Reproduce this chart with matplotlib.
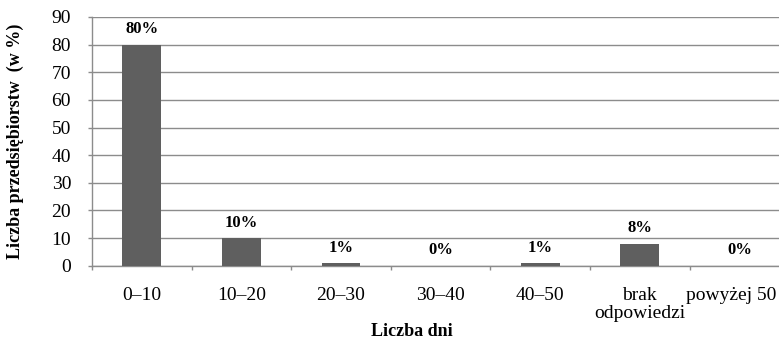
import matplotlib
matplotlib.use('Agg')
import matplotlib.pyplot as plt
import matplotlib.transforms as mtransforms
import numpy as np

# =============================================================================
# Data
# =============================================================================

categories = ['0–10', '10–20', '20–30', '30–40', '40–50', 'brak\nodpowiedzi', 'powyżej 50']
values = [80, 10, 1, 0, 1, 8, 0]
y_ticks = [0, 10, 20, 30, 40, 50, 60, 70, 80, 90]

bar_color = '#5f5f5f'
line_color = '#8c8c8c'

plt.rcParams['font.family'] = ['Liberation Serif', 'DejaVu Serif']

# =============================================================================
# Plot
# =============================================================================

fig = plt.figure(figsize=(7.79, 3.39), dpi=100)
ax = fig.add_axes([0.118, 0.216, 0.895, 0.734])

x = np.arange(len(categories))
ax.bar(x, values, width=0.39, color=bar_color, zorder=3)

for xi, v in zip(x, values):
    ax.annotate('%d%%' % v, (xi, v), xytext=(0, 11), textcoords='offset points',
                ha='center', va='center', fontsize=12, fontweight='bold', zorder=4)

ax.set_xlim(-0.5, len(categories) - 0.5)
ax.set_ylim(0, 90)
ax.set_yticks(y_ticks)
ax.yaxis.grid(True, color=line_color, linewidth=1, zorder=0)

ax.set_xticks(x)
ax.set_xticklabels(categories, fontsize=14, linespacing=1.1)
ax.set_xticks(np.arange(-0.5, len(categories), 1), minor=True)
ax.tick_params(axis='x', which='major', length=0, pad=15)
ax.tick_params(axis='x', which='minor', length=3, color=line_color, width=1)
ax.tick_params(axis='y', labelsize=14, length=3, color=line_color, width=1, pad=12)

# last label sits at the figure edge, nudge it in so it stays whole
last = ax.get_xticklabels()[-1]
last.set_transform(last.get_transform() + mtransforms.ScaledTranslation(-6 / 72, 0, fig.dpi_scale_trans))

for s in ['top', 'right']:
    ax.spines[s].set_visible(False)
for s in ['left', 'bottom']:
    ax.spines[s].set_color(line_color)
    ax.spines[s].set_linewidth(1)

ax.set_ylabel('Liczba przedsiębiorstw  (w %)', fontsize=13, fontweight='bold')
ax.yaxis.set_label_coords(-0.098, 0.5)
ax.set_xlabel('Liczba dni', fontsize=13, fontweight='bold')
ax.xaxis.set_label_coords(0.459, -0.228)

plt.savefig('out.png', dpi=100)
